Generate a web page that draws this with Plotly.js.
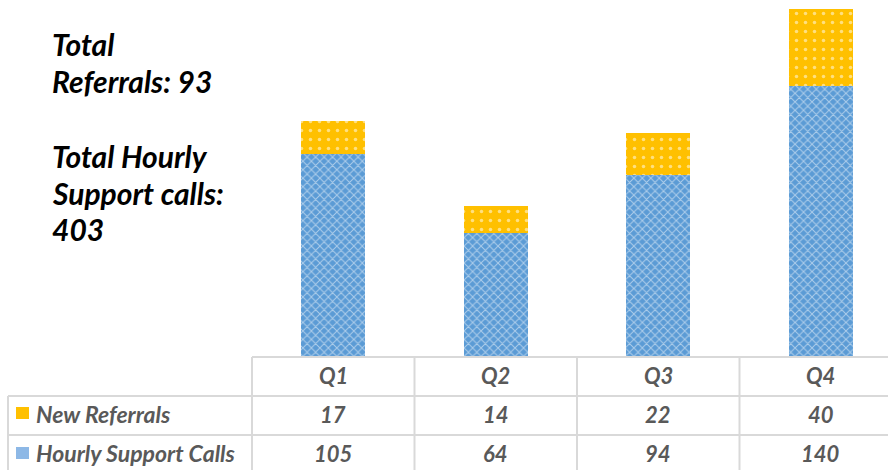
<!DOCTYPE html>
<html>
<head>
<meta charset="utf-8">
<script src="https://cdn.plot.ly/plotly-3.0.1.min.js"></script>
<style>html,body{margin:0;padding:0;background:#fff;}#chart{width:888px;height:470px;}</style>
</head>
<body>
<div id="chart"></div>
<script>
var quarters = ['Q1', 'Q2', 'Q3', 'Q4'];
var newReferrals = [17, 14, 22, 40];
var hourlyCalls = [105, 64, 94, 140];
var seriesNames = ['New Referrals', 'Hourly Support Calls'];

var totalRef = newReferrals.reduce(function (a, b) { return a + b; }, 0);
var totalCalls = hourlyCalls.reduce(function (a, b) { return a + b; }, 0);
var sideLines = ['Total', 'Referrals: ' + totalRef, '', 'Total Hourly', 'Support calls:', String(totalCalls)];

var W = 888, H = 470, ML = 252, MB = 114, MT = 0, MR = 0;
var plotW = W - ML - MR, plotH = H - MT - MB;
var xr = [-0.5, -0.5 + plotW / 162.5];
var yr = [0, 184.8];

function px2paperX(px) { return (px - ML) / plotW; }
function py2paperY(py) { return (H - MB - py) / plotH; }
function dataX2paper(x) { return (x - xr[0]) / (xr[1] - xr[0]); }

var fontFam = 'Lato, "Open Sans", sans-serif';
var gray = '#595959';
var lineCol = '#D9D9D9';

var traces = [
  {
    type: 'bar', name: seriesNames[1], x: quarters, y: hourlyCalls, width: 0.394,
    marker: { color: '#5B9BD5', line: { width: 0 },
      pattern: { shape: 'x', fgcolor: '#ffffff', size: 6, solidity: 0.3, fillmode: 'overlay' } },
    hoverinfo: 'y'
  },
  {
    type: 'bar', name: seriesNames[0], x: quarters, y: newReferrals, width: 0.394,
    marker: { color: '#FFC000', line: { width: 0 },
      pattern: { shape: '.', fgcolor: '#ffffff', size: 9, solidity: 0.12, fillmode: 'overlay' } },
    hoverinfo: 'y'
  }
];

var shapes = [];
function hline(x0, x1, py) {
  shapes.push({ type: 'line', xref: 'paper', yref: 'paper', x0: px2paperX(x0), x1: px2paperX(x1),
    y0: py2paperY(py), y1: py2paperY(py), line: { color: lineCol, width: 2 } });
}
function vlinePaper(xp, py0, py1) {
  shapes.push({ type: 'line', xref: 'paper', yref: 'paper', x0: xp, x1: xp,
    y0: py2paperY(py0), y1: py2paperY(py1), line: { color: lineCol, width: 2 } });
}
var rowLines = [357, 396, 435, 474];
hline(ML, W + 20, rowLines[0]);
hline(8, W + 20, rowLines[1]);
hline(8, W + 20, rowLines[2]);
hline(8, W + 20, rowLines[3]);
vlinePaper(px2paperX(8), rowLines[1], rowLines[3]);
for (var k = 0; k < quarters.length; k++) {
  vlinePaper(dataX2paper(k - 0.5), rowLines[0], rowLines[3]);
}
// legend keys
shapes.push({ type: 'rect', xref: 'paper', yref: 'paper', x0: px2paperX(16), x1: px2paperX(29),
  y0: py2paperY(419), y1: py2paperY(407), fillcolor: '#FFC000', line: { width: 0 } });
shapes.push({ type: 'rect', xref: 'paper', yref: 'paper', x0: px2paperX(16), x1: px2paperX(29),
  y0: py2paperY(459), y1: py2paperY(447), fillcolor: '#8DB8E6', line: { width: 0 } });

var annotations = [];
var rowCenters = [375, 414, 453];
var cellFont = { family: fontFam, size: 22, color: gray, weight: 'bold', style: 'italic' };
var labelFont = { family: fontFam, size: 23, color: gray, weight: 'bold', style: 'italic' };
for (var i = 0; i < quarters.length; i++) {
  var xp = dataX2paper(i);
  annotations.push({ xref: 'paper', yref: 'paper', x: xp, y: py2paperY(rowCenters[0]), text: quarters[i],
    showarrow: false, xanchor: 'center', yanchor: 'middle', font: cellFont });
  annotations.push({ xref: 'paper', yref: 'paper', x: xp, y: py2paperY(rowCenters[1]), text: String(newReferrals[i]),
    showarrow: false, xanchor: 'center', yanchor: 'middle', font: cellFont });
  annotations.push({ xref: 'paper', yref: 'paper', x: xp, y: py2paperY(rowCenters[2]), text: String(hourlyCalls[i]),
    showarrow: false, xanchor: 'center', yanchor: 'middle', font: cellFont });
}
annotations.push({ xref: 'paper', yref: 'paper', x: px2paperX(34), y: py2paperY(rowCenters[1]), text: seriesNames[0],
  showarrow: false, xanchor: 'left', yanchor: 'middle', font: labelFont });
annotations.push({ xref: 'paper', yref: 'paper', x: px2paperX(34), y: py2paperY(rowCenters[2]), text: seriesNames[1],
  showarrow: false, xanchor: 'left', yanchor: 'middle', font: labelFont });

var sideY = [44, 81, 118, 156, 193, 229];
for (var j = 0; j < sideLines.length; j++) {
  if (!sideLines[j]) continue;
  annotations.push({ xref: 'paper', yref: 'paper', x: px2paperX(50), y: py2paperY(sideY[j]), text: sideLines[j],
    showarrow: false, xanchor: 'left', yanchor: 'middle',
    font: { family: fontFam, size: 30, color: '#000000', weight: 'bold', style: 'italic' } });
}

var layout = {
  width: W, height: H,
  margin: { l: ML, r: MR, t: MT, b: MB, pad: 0 },
  paper_bgcolor: '#ffffff', plot_bgcolor: '#ffffff',
  barmode: 'stack',
  showlegend: false,
  xaxis: { type: 'category', range: xr, showticklabels: false, showgrid: false, zeroline: false, showline: false, ticks: '' },
  yaxis: { range: yr, visible: false, showgrid: false, zeroline: false },
  shapes: shapes,
  annotations: annotations
};

Plotly.newPlot('chart', traces, layout, { displayModeBar: false, staticPlot: true });
</script>
</body>
</html>
